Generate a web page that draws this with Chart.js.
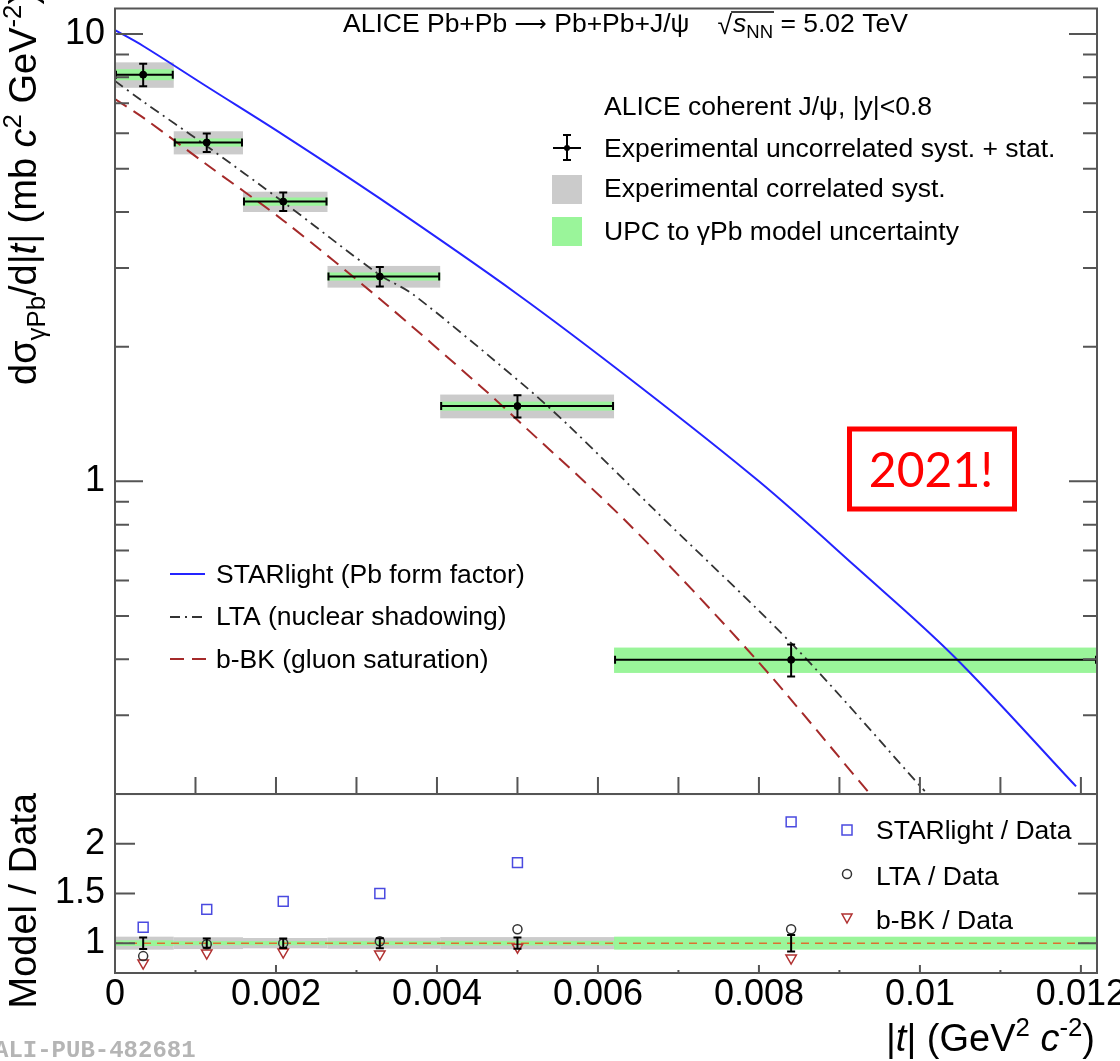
<!DOCTYPE html>
<html><head><meta charset="utf-8">
<script src="https://cdn.jsdelivr.net/npm/chart.js@4.4.1/dist/chart.umd.min.js"></script>
<style>html,body{margin:0;padding:0;background:#fff;}canvas{display:block;}</style>
</head><body>
<canvas id="c" width="1120" height="1061"></canvas>
<script>
// ---------------- data ----------------
const binEdges      = [0, 0.00073, 0.00159, 0.00264, 0.00404, 0.0062, 0.0122];
const binCenters    = [0.00035, 0.00114, 0.00209, 0.00329, 0.005, 0.0084];
const dataValues    = [8.11, 5.72, 4.22, 2.87, 1.473, 0.399];
const dataUncorrErr = [0.47, 0.27, 0.20, 0.145, 0.084, 0.033];
const dataCorrSyst  = [0.53, 0.34, 0.22, 0.16, 0.09, 0.02];
const modelUnc      = [0.23, 0.12, 0.09, 0.06, 0.034, 0.026];

const starlightT = [0, 0.00035, 0.00113, 0.00209, 0.00328, 0.0050, 0.0065, 0.0080, 0.0092, 0.01043, 0.01194];
const starlightV = [10.2, 9.4, 7.65, 5.95, 4.3, 2.62, 1.64, 1.0, 0.645, 0.405, 0.208];
const ltaT = [0, 0.00035, 0.00113, 0.00209, 0.00328, 0.0037, 0.00506, 0.00564, 0.0067, 0.00847, 0.01006];
const ltaV = [7.85, 7.06, 5.63, 4.21, 2.90, 2.62, 1.651, 1.33, 0.864, 0.422, 0.203];
const bbkT = [0, 0.00035, 0.00113, 0.00209, 0.00332, 0.00455, 0.00502, 0.00637, 0.00796, 0.00938];
const bbkV = [7.15, 6.5, 5.12, 3.83, 2.53, 1.626, 1.36, 0.807, 0.401, 0.2];

const starlightRatio = [1.16, 1.34, 1.42, 1.50, 1.81, 2.22];
const ltaRatio       = [0.87, 0.99, 1.00, 1.02, 1.14, 1.14];
const bbkRatio       = [0.80, 0.90, 0.91, 0.89, 0.96, 0.85];

const xTicks = [0, 0.002, 0.004, 0.006, 0.008, 0.01, 0.012];
const yTicks = [1, 10];
const yMinorTicks = [0.3, 0.4, 0.5, 0.6, 0.7, 0.8, 0.9, 2, 3, 4, 5, 6, 7, 8, 9];
const ratioTicks = [1, 1.5, 2];
const xMinorStep = 0.001;

// ---------------- styles ----------------
const GRAY = '#cbcbcb', GREEN = '#9af59a', FRAME = '#555555';
const BLUE = '#2424ff', LTA_C = '#333333', BBK_C = '#a52a2a', ORANGE = '#dd7030';
const FF = '"Liberation Sans", Arial, sans-serif';
Chart.defaults.font.family = FF;

function pts(xs, ys){ return xs.map((x,i)=>({x:x, y:ys[i]})); }

function fontOf(s, base){ return (s.it?'italic ':'') + (base*(s.s||1)).toFixed(1) + 'px ' + (s.ff||FF); }
function richWidth(ctx, segs, base){ let w=0; for(const s of segs){ ctx.font=fontOf(s,base); w+=ctx.measureText(s.t).width; } return w; }
function drawRich(ctx, segs, x, y, base){
  let cx=x;
  for(const s of segs){ ctx.font=fontOf(s,base); ctx.fillText(s.t, cx, y+(s.dy||0)); cx+=ctx.measureText(s.t).width; }
  return cx;
}

const panelPlugin = {
  id: 'panels',
  beforeDatasetsDraw(chart){
    const ctx=chart.ctx, sx=chart.scales.x, sy=chart.scales.y, sr=chart.scales.y2;
    ctx.save();
    for(let i=0;i<dataValues.length;i++){
      const x0=sx.getPixelForValue(binEdges[i]), x1=sx.getPixelForValue(binEdges[i+1]);
      const v=dataValues[i];
      let a=sy.getPixelForValue(v+dataCorrSyst[i]), b=sy.getPixelForValue(v-dataCorrSyst[i]);
      ctx.fillStyle=GRAY; ctx.fillRect(x0,a,x1-x0,b-a);
      a=sy.getPixelForValue(v+modelUnc[i]); b=sy.getPixelForValue(v-modelUnc[i]);
      ctx.fillStyle=GREEN; ctx.fillRect(x0,a,x1-x0,b-a);
      a=sr.getPixelForValue(1+dataCorrSyst[i]/v); b=sr.getPixelForValue(1-dataCorrSyst[i]/v);
      ctx.fillStyle=GRAY; ctx.fillRect(x0,a,x1-x0,b-a);
      a=sr.getPixelForValue(1+modelUnc[i]/v); b=sr.getPixelForValue(1-modelUnc[i]/v);
      ctx.fillStyle=GREEN; ctx.fillRect(x0,a,x1-x0,b-a);
    }
    const y1=sr.getPixelForValue(1);
    ctx.strokeStyle=ORANGE; ctx.lineWidth=1.5; ctx.setLineDash([8,6]);
    ctx.beginPath(); ctx.moveTo(sx.left,y1); ctx.lineTo(sx.right,y1); ctx.stroke();
    ctx.restore();
  },
  afterDatasetsDraw(chart){
    const ctx=chart.ctx, sx=chart.scales.x, sy=chart.scales.y, sr=chart.scales.y2;
    ctx.save();
    ctx.strokeStyle='#000'; ctx.lineWidth=2;
    ctx.beginPath();
    for(let i=0;i<dataValues.length;i++){
      const x0=sx.getPixelForValue(binEdges[i]), x1=sx.getPixelForValue(binEdges[i+1]);
      const xc=sx.getPixelForValue(binCenters[i]);
      const v=dataValues[i], yc=sy.getPixelForValue(v);
      ctx.moveTo(x0,yc); ctx.lineTo(x1,yc);
      ctx.moveTo(x0+1,yc-4); ctx.lineTo(x0+1,yc+4);
      ctx.moveTo(x1-1,yc-4); ctx.lineTo(x1-1,yc+4);
      const ya=sy.getPixelForValue(v+dataUncorrErr[i]), yb=sy.getPixelForValue(v-dataUncorrErr[i]);
      ctx.moveTo(xc,ya); ctx.lineTo(xc,yb);
      ctx.moveTo(xc-4,ya); ctx.lineTo(xc+4,ya);
      ctx.moveTo(xc-4,yb); ctx.lineTo(xc+4,yb);
      const ra=sr.getPixelForValue(1+dataUncorrErr[i]/v), rb=sr.getPixelForValue(1-dataUncorrErr[i]/v);
      ctx.moveTo(xc,ra); ctx.lineTo(xc,rb);
      ctx.moveTo(xc-4,ra); ctx.lineTo(xc+4,ra);
      ctx.moveTo(xc-4,rb); ctx.lineTo(xc+4,rb);
    }
    ctx.stroke();
    ctx.restore();
  },
  afterDraw(chart){
    const ctx=chart.ctx, sx=chart.scales.x, sy=chart.scales.y, sr=chart.scales.y2;
    const L=sx.left, R=sx.right;
    ctx.save();
    ctx.strokeStyle=FRAME; ctx.lineWidth=2;
    ctx.strokeRect(L, sy.top, R-L, sy.bottom-sy.top);
    ctx.strokeRect(L, sr.top, R-L, sr.bottom-sr.top);
    ctx.beginPath();
    for(const v of yTicks){ const y=sy.getPixelForValue(v); ctx.moveTo(L,y); ctx.lineTo(L+28,y); ctx.moveTo(R,y); ctx.lineTo(R-28,y); }
    for(const v of yMinorTicks){ const y=sy.getPixelForValue(v); ctx.moveTo(L,y); ctx.lineTo(L+14,y); ctx.moveTo(R,y); ctx.lineTo(R-14,y); }
    for(let k=1;k<=12;k++){ const x=sx.getPixelForValue(k*xMinorStep); ctx.moveTo(x,sy.bottom); ctx.lineTo(x,sy.bottom-17); }
    for(let k=1;k<=12;k++){ const x=sx.getPixelForValue(k*xMinorStep); const len=(k%2===0)?8:3; ctx.moveTo(x,sr.bottom); ctx.lineTo(x,sr.bottom-len); }
    for(const v of ratioTicks){ const y=sr.getPixelForValue(v); ctx.moveTo(L,y); ctx.lineTo(L+20,y); ctx.moveTo(R,y); ctx.lineTo(R-19,y); }
    ctx.stroke();

    ctx.fillStyle='#000'; ctx.textAlign='left'; ctx.textBaseline='alphabetic';
    // ---- top title ----
    const TS=26.5;
    let cx=drawRich(ctx,[{t:'ALICE Pb+Pb '},{t:'\u27F6',ff:'"DejaVu Sans", sans-serif',s:0.85,dy:-1},{t:' Pb+Pb+J/\u03C8'}],343,32,TS);
    cx+=28;
    ctx.font=TS+'px '+FF;
    ctx.fillText('\u221A', cx, 34);
    const sqW=ctx.measureText('\u221A').width;
    const ovStart=cx+sqW-1;
    cx+=sqW+1;
    cx=drawRich(ctx,[{t:'s',it:true},{t:'NN',s:0.7,dy:6}],cx,32,TS);
    const ovEnd=cx+1;
    ctx.strokeStyle='#000'; ctx.lineWidth=1.3;
    ctx.beginPath(); ctx.moveTo(ovStart,12); ctx.lineTo(ovEnd,12); ctx.stroke();
    ctx.font=TS+'px '+FF;
    ctx.fillText(' = 5.02 TeV', cx, 32);

    // ---- data legend (top right) ----
    const LS=26.5;
    ctx.font=LS+'px '+FF;
    ctx.fillText('ALICE coherent J/\u03C8, |y|<0.8', 604, 115);
    ctx.fillText('Experimental uncorrelated syst. + stat.', 604, 157);
    ctx.fillText('Experimental correlated syst.', 604, 197);
    ctx.fillText('UPC to \u03B3Pb model uncertainty', 604, 240);
    ctx.strokeStyle='#000'; ctx.lineWidth=2;
    ctx.beginPath();
    ctx.moveTo(567,135); ctx.lineTo(567,160);
    ctx.moveTo(563,135); ctx.lineTo(571,135);
    ctx.moveTo(563,160); ctx.lineTo(571,160);
    ctx.moveTo(553,148); ctx.lineTo(581,148);
    ctx.stroke();
    ctx.beginPath(); ctx.arc(567,148,3,0,Math.PI*2); ctx.fillStyle='#000'; ctx.fill();
    ctx.fillStyle=GRAY; ctx.fillRect(552,175,30,29);
    ctx.fillStyle=GREEN; ctx.fillRect(552,217,30,29);

    // ---- model legend (left) ----
    ctx.fillStyle='#000'; ctx.font=LS+'px '+FF;
    ctx.fillText('STARlight (Pb form factor)', 216, 583);
    ctx.fillText('LTA (nuclear shadowing)', 216, 625);
    ctx.fillText('b-BK (gluon saturation)', 216, 668);
    ctx.lineWidth=2;
    ctx.strokeStyle=BLUE; ctx.setLineDash([]);
    ctx.beginPath(); ctx.moveTo(170,574); ctx.lineTo(205,574); ctx.stroke();
    ctx.strokeStyle=LTA_C; ctx.lineWidth=1.8; ctx.setLineDash([10,5,2,5]);
    ctx.beginPath(); ctx.moveTo(170,617); ctx.lineTo(205,617); ctx.stroke();
    ctx.strokeStyle=BBK_C; ctx.lineWidth=2; ctx.setLineDash([14,8]);
    ctx.beginPath(); ctx.moveTo(170,659); ctx.lineTo(207,659); ctx.stroke();
    ctx.setLineDash([]);

    // ---- ratio legend ----
    ctx.fillStyle='#000'; ctx.font=LS+'px '+FF;
    ctx.fillText('STARlight / Data', 876, 839);
    ctx.fillText('LTA / Data', 876, 885);
    ctx.fillText('b-BK / Data', 876, 929);
    ctx.lineWidth=1.5;
    ctx.strokeStyle='#4a4ae0'; ctx.strokeRect(842,825,10,10);
    ctx.strokeStyle='#333'; ctx.beginPath(); ctx.arc(847,874,4.5,0,Math.PI*2); ctx.stroke();
    ctx.strokeStyle='#b03030'; ctx.beginPath(); ctx.moveTo(842,914); ctx.lineTo(852,914); ctx.lineTo(847,923); ctx.closePath(); ctx.stroke();

    // ---- axis titles ----
    ctx.fillStyle='#000';
    const AS=38;
    ctx.save();
    ctx.translate(36,385); ctx.rotate(-Math.PI/2);
    drawRich(ctx,[{t:'d\u03C3'},{t:'\u03B3Pb',s:0.68,dy:9},{t:'/d|'},{t:'t',it:true},{t:'| (mb '},{t:'c',it:true},{t:'2',s:0.68,dy:-15},{t:' GeV'},{t:'-2',s:0.68,dy:-15},{t:')'}],0,0,AS);
    ctx.restore();
    ctx.save();
    ctx.translate(36,793); ctx.rotate(-Math.PI/2);
    ctx.font=AS+'px '+FF; ctx.textAlign='right';
    ctx.fillText('Model / Data',0,0);
    ctx.restore();
    const xt=[{t:'|'},{t:'t',it:true},{t:'| (GeV'},{t:'2',s:0.68,dy:-15},{t:' '},{t:'c',it:true},{t:'-2',s:0.68,dy:-15},{t:')'}];
    ctx.textAlign='left';
    drawRich(ctx,xt,1095-richWidth(ctx,xt,AS),1051,AS);

    // ---- watermark ----
    ctx.fillStyle='#b5b5b5'; ctx.font='bold 24px "Liberation Mono", monospace';
    ctx.fillText('ALI-PUB-482681', -6, 1057);

    // ---- 2021! box ----
    ctx.strokeStyle='#ff0000'; ctx.lineWidth=5;
    ctx.strokeRect(849.5,429,165,80);
    ctx.fillStyle='#ff0000'; ctx.font='48px Lato, "Open Sans", sans-serif'; ctx.textAlign='center';
    ctx.fillText('2021!', 931, 487);
    ctx.restore();
  }
};

const chart = new Chart(document.getElementById('c'), {
  type: 'scatter',
  data: { datasets: [
    { label:'Data', data: pts(binCenters, dataValues), yAxisID:'y', pointRadius:3.5, pointBackgroundColor:'#000', pointBorderColor:'#000', showLine:false },
    { label:'STARlight / Data', data: pts(binCenters, starlightRatio), yAxisID:'y2', pointStyle:'rect', pointRadius:7, pointBorderColor:'#4a4ae0', pointBackgroundColor:'rgba(0,0,0,0)', pointBorderWidth:1.5, showLine:false },
    { label:'LTA / Data', data: pts(binCenters, ltaRatio), yAxisID:'y2', pointStyle:'circle', pointRadius:4.5, pointBorderColor:'#333', pointBackgroundColor:'rgba(0,0,0,0)', pointBorderWidth:1.5, showLine:false },
    { label:'b-BK / Data', data: pts(binCenters, bbkRatio), yAxisID:'y2', pointStyle:'triangle', pointRotation:180, pointRadius:6, pointBorderColor:'#b03030', pointBackgroundColor:'rgba(0,0,0,0)', pointBorderWidth:1.5, showLine:false },
    { label:'STARlight', data: pts(starlightT, starlightV), yAxisID:'y', showLine:true, borderColor:BLUE, borderWidth:2, pointRadius:0, tension:0.35, fill:false },
    { label:'LTA', data: pts(ltaT, ltaV), yAxisID:'y', showLine:true, borderColor:LTA_C, borderWidth:1.8, borderDash:[10,5,2,5], pointRadius:0, tension:0.3, fill:false },
    { label:'b-BK', data: pts(bbkT, bbkV), yAxisID:'y', showLine:true, borderColor:BBK_C, borderWidth:2, borderDash:[14,8], pointRadius:0, tension:0.3, fill:false }
  ]},
  options: {
    responsive:false, animation:false, devicePixelRatio:1, events:[],
    layout:{ padding:{ left:0, right:23, top:3, bottom:0 } },
    plugins:{ legend:{display:false}, tooltip:{enabled:false} },
    scales:{
      x:{ type:'linear', position:'bottom', min:0, max:0.0122,
          grid:{display:false, drawTicks:false}, border:{display:false},
          ticks:{ autoSkip:false, maxRotation:0, color:'#000', padding:0, font:{size:36, family:FF},
                  callback:(v)=>String(+Number(v).toFixed(4)) },
          afterBuildTicks:(s)=>{ s.ticks = xTicks.map(v=>({value:v})); },
          afterFit:(s)=>{ s.height=88; s.paddingLeft=0; s.paddingRight=0; } },
      y2:{ type:'linear', position:'left', stack:'panels', stackWeight:180, min:0.7, max:2.5,
          grid:{display:false, drawTicks:false}, border:{display:false},
          ticks:{ color:'#000', padding:10, font:{size:36, family:FF}, callback:(v)=>String(v) },
          afterBuildTicks:(s)=>{ s.ticks = ratioTicks.map(v=>({value:v})); },
          afterFit:(s)=>{ s.width=115; s.paddingTop=0; s.paddingBottom=0; } },
      y:{ type:'logarithmic', position:'left', stack:'panels', stackWeight:790, min:0.2, max:11.4,
          grid:{display:false, drawTicks:false}, border:{display:false},
          ticks:{ color:'#000', padding:10, font:{size:36, family:FF}, callback:(v)=>String(v) },
          afterBuildTicks:(s)=>{ s.ticks = yTicks.map(v=>({value:v})); },
          afterFit:(s)=>{ s.width=115; s.paddingTop=0; s.paddingBottom=0; } }
    }
  },
  plugins:[panelPlugin]
});
</script>
</body></html>
